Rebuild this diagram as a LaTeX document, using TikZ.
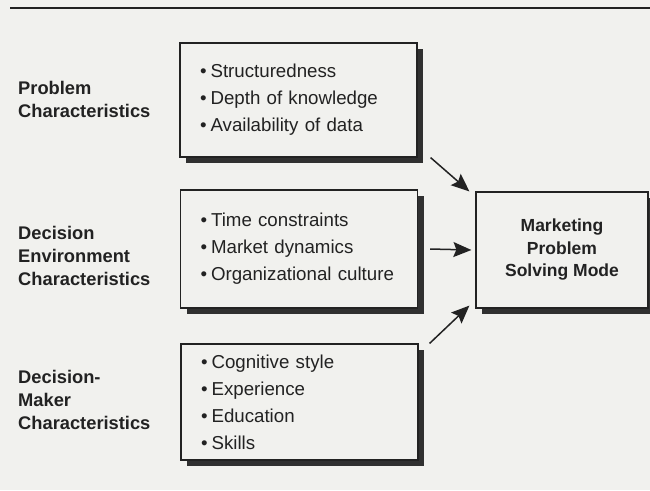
\documentclass[tikz,border=0pt]{standalone}
\usepackage{fontspec}
\setmainfont{Liberation Sans}
\usetikzlibrary{arrows.meta,shadows}
\definecolor{FontColor}{HTML}{222222}
\definecolor{PaperBG}{HTML}{F1F1EE}
\definecolor{ShadowGray}{HTML}{303030}
\newcommand\bul{\textbullet\hspace{4pt}}
\newcommand\labprob{Problem\\Characteristics}
\newcommand\labenv{Decision\\Environment\\Characteristics}
\newcommand\labdm{Decision-\\Maker\\Characteristics}
\newcommand\itemsprob{\bul Structuredness\\\bul Depth of knowledge\\\bul Availability of data}
\newcommand\itemsenv{\bul Time constraints\\\bul Market dynamics\\\bul Organizational culture}
\newcommand\itemsdm{\bul Cognitive style\\\bul Experience\\\bul Education\\\bul Skills}
\newcommand\nodemode{Marketing\\Problem\\Solving Mode}
\tikzstyle{labelstyle} = [anchor=west, align=left, inner sep=0pt, text=FontColor, font=\bfseries\fontsize{18.3}{23}\selectfont]
\tikzstyle{boxstyle} = [rectangle, draw=FontColor, fill=PaperBG, line width=1.2pt, text=FontColor, drop shadow={shadow xshift=6pt, shadow yshift=-6pt, fill=ShadowGray, opacity=1}]
\tikzstyle{listbox} = [boxstyle, align=left, inner xsep=20pt, text width=197pt, font=\fontsize{18.7}{27}\selectfont]
\tikzstyle{modebox} = [boxstyle, align=center, minimum width=172pt, minimum height=116pt, font=\bfseries\fontsize{17.5}{22.5}\selectfont]
\tikzstyle{flow} = [draw=FontColor, line width=1.5pt, -{Stealth[length=18pt,width=15pt,inset=3pt]}]

\begin{document}
\begin{tikzpicture}[x=1pt, y=-1pt]
\fill[PaperBG] (0,0) rectangle (650,490);
\useasboundingbox (0,0) rectangle (650,490);
\draw[FontColor, line width=2pt] (10,8) -- (650,8);
\node[labelstyle] (lprob) at (18,99) {\labprob};
\node[labelstyle] (lenv) at (18,256) {\labenv};
\node[labelstyle] (ldm) at (18,400) {\labdm};
\node[listbox, minimum height=114pt] (prob) at (298.5,100) {\itemsprob};
\node[listbox, minimum height=118pt] (env) at (299,249) {\itemsenv};
\node[listbox, minimum height=116pt] (dm) at (299.5,402) {\itemsdm};
\node[modebox] (mode) at (562,250) {\nodemode};
\draw [flow] ([xshift=13pt]prob.south east) -- ([xshift=-6pt]mode.north west);
\draw [flow] ([xshift=12pt]env.east) -- ([xshift=-4pt]mode.west);
\draw [flow] ([xshift=11pt]dm.north east) -- ([xshift=-6pt, yshift=3pt]mode.south west);
\end{tikzpicture}
\end{document}
